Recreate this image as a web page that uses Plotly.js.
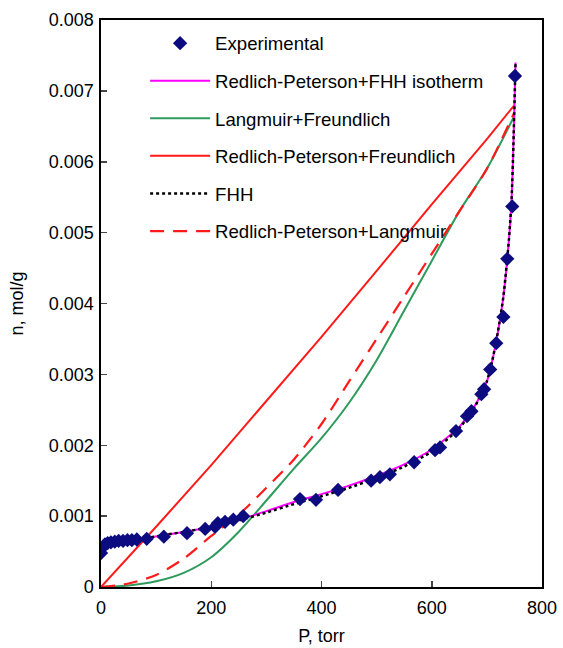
<!DOCTYPE html>
<html>
<head>
<meta charset="utf-8">
<script src="https://cdn.plot.ly/plotly-3.0.1.min.js"></script>
<style>html,body{margin:0;padding:0;background:#fff;}#chart{width:563px;height:648px;}</style>
</head>
<body>
<div id="chart"></div>
<script>
// Experimental data
var expP = [0, 3, 7, 12, 18, 25, 32, 40, 48, 56, 65, 83, 114, 156, 189, 207, 212, 225, 240, 258, 361, 390, 430, 490, 506, 524, 568, 606, 615, 644, 664, 672, 690, 695, 706, 717, 730, 737, 746, 751];
var expN = [0.00048, 0.00056, 0.0006, 0.00062, 0.00063, 0.00064, 0.00065, 0.00065, 0.00066, 0.00066, 0.00067, 0.00068, 0.00071, 0.00076, 0.00082, 0.00085, 0.0009, 0.00092, 0.00095, 0.001, 0.00124, 0.00123, 0.00137, 0.0015, 0.00155, 0.00159, 0.00176, 0.00193, 0.00197, 0.0022, 0.00241, 0.00248, 0.00272, 0.00279, 0.00307, 0.00344, 0.00381, 0.00463, 0.00537, 0.00721];

// Redlich-Peterson + FHH isotherm
var rpfhhP = [0, 5, 10, 20, 40, 80, 120, 160, 200, 250, 300, 350, 400, 450, 500, 550, 600, 650, 680, 700, 710, 720, 730, 740, 745, 748, 752];
var rpfhhN = [0.00048, 0.00058, 0.00062, 0.00064, 0.00066, 0.00069, 0.00074, 0.00079, 0.00085, 0.00095, 0.00107, 0.0012, 0.00131, 0.00143, 0.00157, 0.00173, 0.00194, 0.00226, 0.00258, 0.0029, 0.0032, 0.0036, 0.0041, 0.0049, 0.0055, 0.0062, 0.0074];

// FHH
var fhhP = [80, 120, 160, 200, 250, 300, 350, 400, 450, 500, 550, 600, 650, 680, 700, 710, 720, 730, 740, 745, 748, 752];
var fhhN = [0.00069, 0.00074, 0.00079, 0.00085, 0.00094, 0.00105, 0.00117, 0.00128, 0.0014, 0.00154, 0.0017, 0.00191, 0.00224, 0.00257, 0.0029, 0.0032, 0.0036, 0.0041, 0.0049, 0.0055, 0.0062, 0.0074];

// Langmuir + Freundlich
var lfP = [0, 50, 100, 150, 200, 250, 300, 350, 400, 450, 500, 550, 600, 650, 700, 750];
var lfN = [0, 0.00002, 0.00008, 0.0002, 0.00042, 0.00078, 0.00122, 0.00167, 0.0021, 0.0026, 0.0032, 0.0039, 0.0046, 0.0053, 0.0059, 0.00665];

// Redlich-Peterson + Freundlich
var rpfP = [0, 100, 200, 300, 400, 500, 600, 700, 750];
var rpfN = [0, 0.00085, 0.00172, 0.00262, 0.00353, 0.00446, 0.0054, 0.00632, 0.0068];

// Redlich-Peterson + Langmuir
var rplP = [0, 50, 100, 150, 200, 250, 300, 350, 400, 450, 500, 550, 600, 650, 700, 750];
var rplN = [0, 0.00005, 0.00017, 0.0004, 0.00072, 0.00102, 0.0014, 0.0018, 0.0023, 0.0029, 0.0035, 0.0041, 0.0047, 0.0053, 0.0059, 0.0067];

// Tick labels
var yTickVals = [0, 0.001, 0.002, 0.003, 0.004, 0.005, 0.006, 0.007, 0.008];
var yTickText = ['0', '0.001', '0.002', '0.003', '0.004', '0.005', '0.006', '0.007', '0.008'];
var xTickVals = [0, 200, 400, 600, 800];
var xTickText = ['0', '200', '400', '600', '800'];

var names = ['Experimental', 'Redlich-Peterson+FHH isotherm', 'Langmuir+Freundlich', 'Redlich-Peterson+Freundlich', 'FHH', 'Redlich-Peterson+Langmuir'];

var traces = [
  {x: lfP, y: lfN, name: names[2], legendrank: 3, legendgroup: 'g3', mode: 'lines', line: {color: '#2e9a5c', width: 2, shape: 'spline', smoothing: 0.8}},
  {x: rpfP, y: rpfN, name: names[3], legendrank: 4, legendgroup: 'g4', mode: 'lines', line: {color: '#ff1a1a', width: 2}},
  {x: rplP, y: rplN, name: names[5], legendrank: 6, legendgroup: 'g6', mode: 'lines', line: {color: '#ff1a1a', width: 2.2, dash: '14px,9px', shape: 'spline', smoothing: 0.8}},
  {x: rpfhhP, y: rpfhhN, name: names[1], legendrank: 2, legendgroup: 'g2', mode: 'lines', line: {color: '#ff00ff', width: 2, shape: 'spline', smoothing: 0.6}},
  {x: fhhP, y: fhhN, name: names[4], legendrank: 5, legendgroup: 'g5', mode: 'lines', line: {color: '#000000', width: 2.5, dash: 'dot', shape: 'spline', smoothing: 0.6}},
  {x: expP, y: expN, name: names[0], legendrank: 1, legendgroup: 'g1', mode: 'markers', marker: {symbol: 'diamond', size: 11, color: '#0c0c80'}}
];

var layout = {
  width: 563, height: 648,
  margin: {l: 101, r: 21, t: 20, b: 61},
  paper_bgcolor: '#fff', plot_bgcolor: '#fff',
  font: {family: 'Liberation Sans, Arial, sans-serif', size: 18, color: '#000'},
  showlegend: true,
  legend: {x: 0.1, y: 0.992, xanchor: 'left', yanchor: 'top', bgcolor: 'rgba(0,0,0,0)', itemwidth: 60, tracegroupgap: 10.4, traceorder: 'grouped', font: {size: 18.6}},
  xaxis: {range: [0, 800], tickvals: xTickVals, ticktext: xTickText, ticks: 'inside', ticklen: 6, tickwidth: 1.5, ticklabelstandoff: 4, showline: true, linewidth: 1.7, linecolor: '#000', mirror: true, showgrid: false, zeroline: false,
    title: {text: 'P, torr', standoff: 12, font: {size: 18}}},
  yaxis: {range: [0, 0.008], tickvals: yTickVals, ticktext: yTickText, ticks: 'inside', ticklen: 6, tickwidth: 1.5, ticklabelstandoff: 2, showline: true, linewidth: 1.7, linecolor: '#000', mirror: true, showgrid: false, zeroline: false,
    title: {text: 'n, mol/g', standoff: 20, font: {size: 18}}}
};

Plotly.newPlot('chart', traces, layout, {displayModeBar: false, staticPlot: true});
</script>
</body>
</html>
